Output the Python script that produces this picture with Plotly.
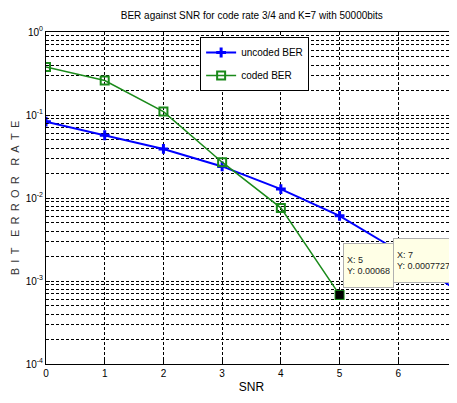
import math
import plotly.graph_objects as go

snr_uncoded = [0, 1, 2, 3, 4, 5, 6, 7]
ber_uncoded = [0.083, 0.057, 0.039, 0.024, 0.0128, 0.0061, 0.0023, 0.0007727]
snr_coded = [0, 1, 2, 3, 4, 5]
ber_coded = [0.38, 0.26, 0.11, 0.027, 0.0076, 0.00068]
tip_x = [5, 7]
tip_y = [0.00068, 0.0007727]
tip_text = ["X: 5<br>Y: 0.00068", "X: 7<br>Y: 0.0007727"]
ytick_vals = [1e-4, 1e-3, 1e-2, 1e-1, 1]
ytick_text = ["10<sup>-4</sup>", "10<sup>-3</sup>", "10<sup>-2</sup>", "10<sup>-1</sup>", "10<sup>0</sup>"]
xtick_vals = [0, 1, 2, 3, 4, 5, 6, 7]

FONT = "Liberation Sans Narrow, Arial Narrow, Liberation Sans, Arial, sans-serif"
DASH = "3px,2px"
NB = "\u00a0"
LG = NB + "\u2009"          # gap between letters
WG = NB * 2 + "\u2009" * 2  # gap between words
ytitle = WG.join(LG.join(list(w)) for w in ["BIT", "ERROR", "RATE"])

fig = go.Figure()
fig.add_trace(go.Scatter(
    x=snr_uncoded, y=ber_uncoded, mode="lines+markers", name="uncoded BER",
    legendgroup="u",
    line=dict(color="#0000ff", width=2),
    marker=dict(symbol="cross-thin-open", size=7, line=dict(color="#0000ff", width=3)),
))
fig.add_trace(go.Scatter(
    x=snr_coded, y=ber_coded, mode="lines+markers", name="coded BER",
    legendgroup="c",
    line=dict(color="#1a8a1a", width=1.5),
    marker=dict(symbol="square-open", size=8, line=dict(color="#0a7a0a", width=2)),
))
fig.add_trace(go.Scatter(
    x=tip_x, y=tip_y, mode="markers", showlegend=False,
    marker=dict(symbol="square", size=8, color="black"),
    cliponaxis=False,
))

tip_style = dict(showarrow=False, bgcolor="#ffffe6", bordercolor="#b0b0b0", borderwidth=1,
                 borderpad=3, align="left", valign="middle",
                 font=dict(family=FONT, size=9, color="#222"),
                 yanchor="bottom", height=37)
fig.add_annotation(x=tip_x[0], y=math.log10(tip_y[0]), text=tip_text[0], width=43,
                   xanchor="left", xshift=3, yshift=7, **tip_style)
fig.add_annotation(x=tip_x[1], y=math.log10(tip_y[1]), text=tip_text[1], width=54,
                   xanchor="right", xshift=-2, yshift=7, **tip_style)

fig.update_layout(
    width=449, height=395,
    margin=dict(l=38, r=0, t=24, b=39),
    paper_bgcolor="white", plot_bgcolor="white",
    font=dict(family=FONT, size=10, color="black"),
    title=dict(text="BER against SNR for code rate 3/4 and K=7 with 50000bits",
               x=0.543, xanchor="center", y=0.982, yanchor="middle",
               font=dict(family=FONT, size=10, color="black")),
    legend=dict(x=0.375, y=0.985, xanchor="left", yanchor="top",
                bgcolor="white", bordercolor="black", borderwidth=1,
                font=dict(family=FONT, size=10), tracegroupgap=4, itemwidth=30),
    showlegend=True,
)
fig.update_xaxes(
    range=[0, 7], tickvals=xtick_vals, ticks="inside", ticklen=4, tickcolor="black",
    showline=True, linecolor="black", linewidth=1, mirror=True,
    showgrid=True, gridcolor="black", griddash=DASH, gridwidth=0.6,
    zeroline=False, automargin=False, title=dict(text="SNR", standoff=4),
)
fig.update_yaxes(
    type="log", range=[-4, 0], tickvals=ytick_vals, ticktext=ytick_text,
    ticks="inside", ticklen=4, tickcolor="black",
    showline=True, linecolor="black", linewidth=1, mirror=True,
    showgrid=True, gridcolor="black", griddash=DASH, gridwidth=0.6,
    minor=dict(dtick="D1", showgrid=True, gridcolor="black", griddash=DASH, gridwidth=0.6,
               ticks="inside", ticklen=2, tickcolor="black"),
    zeroline=False, automargin=False,
    title=dict(text=ytitle, standoff=3, font=dict(size=11, color="#333")),
)

fig.write_html("out.html")
